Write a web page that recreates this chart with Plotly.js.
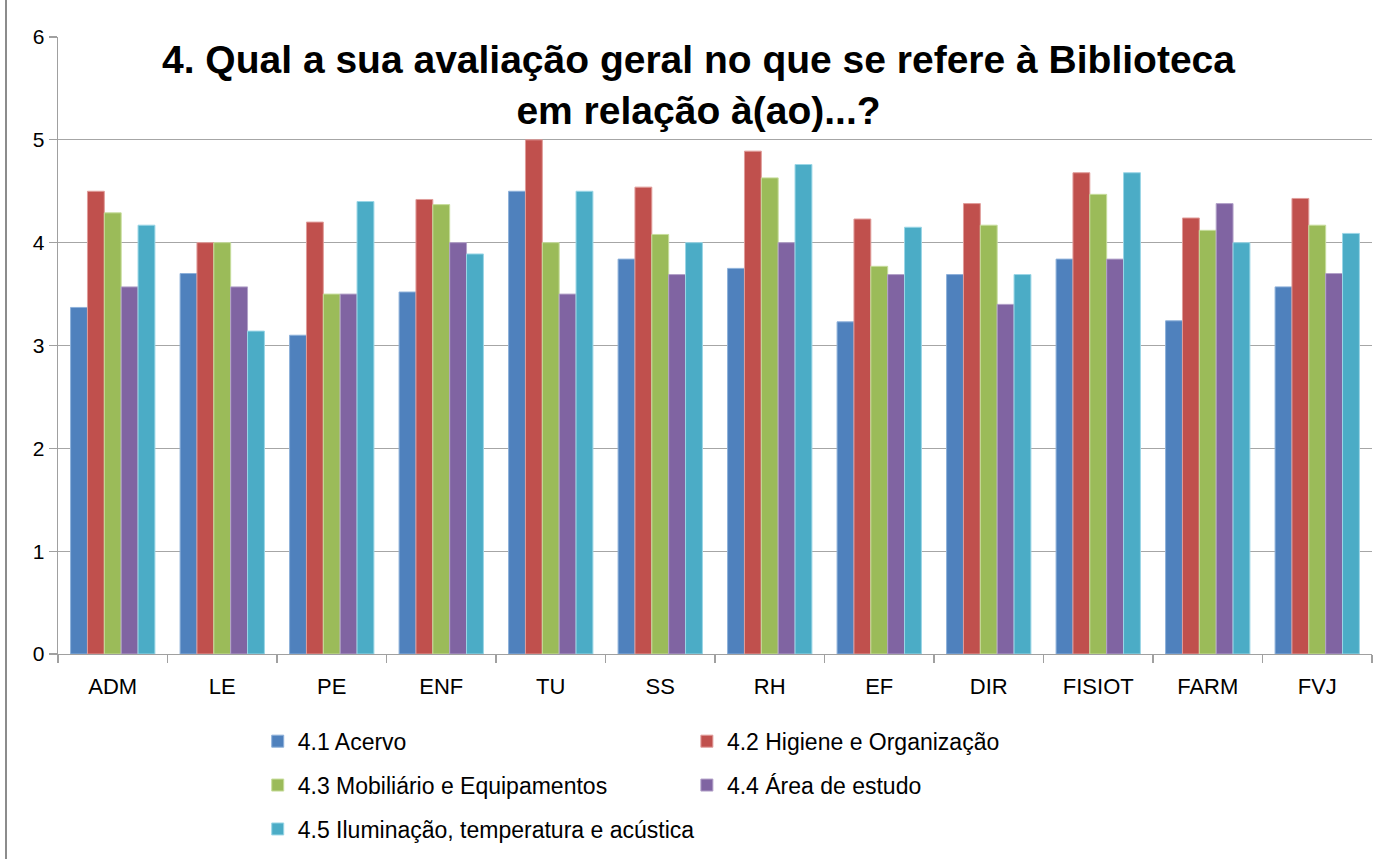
<!DOCTYPE html>
<html>
<head>
<meta charset="utf-8">
<script src="https://cdn.plot.ly/plotly-3.0.1.min.js"></script>
<style>
  html, body { margin: 0; padding: 0; background: #fff; }
  #chart { width: 1397px; height: 859px; position: relative; }
  #frame { position: absolute; left: 5px; top: 0; width: 0; height: 859px; border-left: 2px solid #8c8c8c; pointer-events: none; }
</style>
</head>
<body>
<div id="chart"></div>
<div id="frame"></div>
<script>
const categories = ["ADM", "LE", "PE", "ENF", "TU", "SS", "RH", "EF", "DIR", "FISIOT", "FARM", "FVJ"];

const seriesNames = [
  "4.1 Acervo",
  "4.2 Higiene e Organização",
  "4.3 Mobiliário e Equipamentos",
  "4.4 Área de estudo",
  "4.5 Iluminação, temperatura e acústica"
];

const acervo      = [3.37, 3.70, 3.10, 3.52, 4.50, 3.84, 3.75, 3.23, 3.69, 3.84, 3.24, 3.57];
const higiene     = [4.50, 4.00, 4.20, 4.42, 5.00, 4.54, 4.89, 4.23, 4.38, 4.68, 4.24, 4.43];
const mobiliario  = [4.29, 4.00, 3.50, 4.37, 4.00, 4.08, 4.63, 3.77, 4.17, 4.47, 4.12, 4.17];
const areaEstudo  = [3.57, 3.57, 3.50, 4.00, 3.50, 3.69, 4.00, 3.69, 3.40, 3.84, 4.38, 3.70];
const iluminacao  = [4.17, 3.14, 4.40, 3.89, 4.50, 4.00, 4.76, 4.15, 3.69, 4.68, 4.00, 4.09];

const allSeries = [acervo, higiene, mobiliario, areaEstudo, iluminacao];
const colors = ["#4F81BD", "#C0504D", "#9BBB59", "#8064A2", "#4BACC6"];
const edgeColors = ["#8DB0DA", "#E09C9A", "#C7DD9C", "#B3A2C9", "#9AD6E6"];
const legendOf = ["legend", "legend2", "legend", "legend2", "legend"];

const fontFamily = "'Liberation Sans', Arial, sans-serif";

const traces = allSeries.map((vals, i) => ({
  type: "bar",
  name: seriesNames[i],
  x: categories,
  y: vals,
  marker: { color: colors[i], line: { color: edgeColors[i], width: 1 } },
  legend: legendOf[i],
  legendgroup: "g" + i,
  hoverinfo: "x+y+name"
}));

const layout = {
  width: 1397,
  height: 859,
  paper_bgcolor: "#ffffff",
  plot_bgcolor: "#ffffff",
  margin: { l: 58, r: 25, t: 37, b: 205, autoexpand: false },
  barmode: "group",
  bargap: 0.23,
  bargroupgap: 0,
  showlegend: true,
  title: {
    text: "4. Qual a sua avaliação geral no que se refere à Biblioteca<br>em relação à(ao)...?",
    font: { family: fontFamily, size: 39, color: "#000000", weight: "bold" },
    x: 0.5,
    xanchor: "center",
    y: 0.915,
    yanchor: "top"
  },
  xaxis: {
    type: "category",
    showgrid: false,
    showline: true,
    linecolor: "#a0a0a0",
    linewidth: 1.3,
    ticks: "outside",
    tickson: "boundaries",
    ticklen: 8,
    tickcolor: "#a0a0a0",
    tickwidth: 1.3,
    ticklabelstandoff: 12,
    tickfont: { family: fontFamily, size: 22, color: "#000000" },
    zeroline: false,
    automargin: false
  },
  yaxis: {
    range: [0, 6],
    dtick: 1,
    tick0: 0,
    showgrid: true,
    gridcolor: "#a6a6a6",
    gridwidth: 1.3,
    showline: true,
    linecolor: "#a0a0a0",
    linewidth: 1.3,
    ticks: "outside",
    ticklen: 8,
    tickcolor: "#a0a0a0",
    tickwidth: 1.3,
    tickfont: { family: fontFamily, size: 21, color: "#000000" },
    zeroline: false,
    fixedrange: true,
    automargin: false
  },
  legend: {
    orientation: "v",
    x: 0.152,
    xanchor: "left",
    y: -0.1065,
    yanchor: "top",
    tracegroupgap: 11,
    font: { family: fontFamily, size: 23, color: "#000000" },
    bgcolor: "rgba(0,0,0,0)",
    traceorder: "grouped"
  },
  legend2: {
    orientation: "v",
    x: 0.4786,
    xanchor: "left",
    y: -0.1065,
    yanchor: "top",
    tracegroupgap: 11,
    font: { family: fontFamily, size: 23, color: "#000000" },
    bgcolor: "rgba(0,0,0,0)",
    traceorder: "grouped"
  }
};

Plotly.newPlot("chart", traces, layout, { displayModeBar: false, staticPlot: true });
</script>
</body>
</html>
